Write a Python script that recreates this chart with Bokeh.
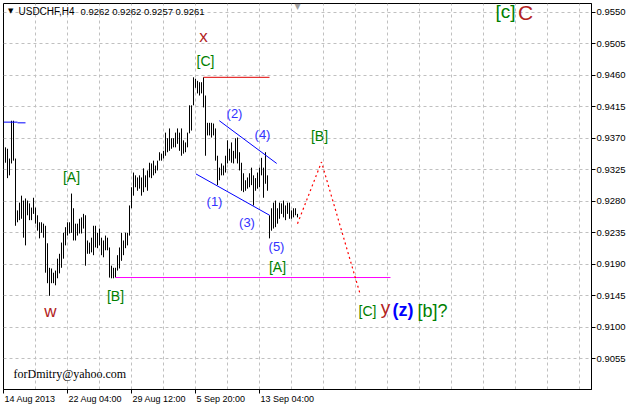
from bokeh.plotting import figure
from bokeh.models import Range1d, FixedTicker, Label, PrintfTickFormatter, ColumnDataSource, LinearAxis
from bokeh.embed import file_html
from bokeh.resources import INLINE

# ---------------- data (H4 bars, bar 0 = 14 Aug 2013 20:00) ----------------
bar_index = list(range(1, 148))
high = [0.9357, 0.9355, 0.9341, 0.9395, 0.9395, 0.9341, 0.9267, 0.9278, 0.9288, 0.9281,
        0.9284, 0.9281, 0.9277, 0.9271, 0.9285, 0.9271, 0.9260, 0.9250, 0.9250, 0.9248,
        0.9245, 0.9220, 0.9185, 0.9184, 0.9178, 0.9181, 0.9198, 0.9205, 0.9221, 0.9235,
        0.9243, 0.9250, 0.9250, 0.9291, 0.9270, 0.9248, 0.9248, 0.9255, 0.9257, 0.9262,
        0.9260, 0.9224, 0.9221, 0.9228, 0.9245, 0.9245, 0.9235, 0.9241, 0.9228, 0.9224,
        0.9231, 0.9228, 0.9214,
        0.9188, 0.9185, 0.9185, 0.9203, 0.9214, 0.9235, 0.9224, 0.9235, 0.9235, 0.9274,
        0.9300, 0.9321, 0.9317, 0.9314, 0.9317, 0.9314, 0.9327, 0.9317, 0.9324, 0.9335,
        0.9334, 0.9338, 0.9331, 0.9338, 0.9350, 0.9348, 0.9352, 0.9378, 0.9370, 0.9384,
        0.9370, 0.9370, 0.9378, 0.9384, 0.9378, 0.9384, 0.9367, 0.9364, 0.9378, 0.9417,
        0.9417,
        0.9457, 0.9455, 0.9452, 0.9450, 0.9450, 0.9457, 0.9431, 0.9392, 0.9392, 0.9392,
        0.9391, 0.9384, 0.9345, 0.9328, 0.9334, 0.9331, 0.9345, 0.9367, 0.9355, 0.9364,
        0.9352, 0.9370, 0.9371, 0.9350, 0.9335, 0.9320, 0.9310, 0.9314, 0.9320, 0.9328,
        0.9317, 0.9313, 0.9321, 0.9328, 0.9342, 0.9328, 0.9350, 0.9317,
        0.9260, 0.9270, 0.9278, 0.9281, 0.9270, 0.9278, 0.9277, 0.9281, 0.9274, 0.9278,
        0.9278, 0.9267, 0.9270, 0.9270, 0.9262]
low = [0.9335, 0.9313, 0.9317, 0.9334, 0.9338, 0.9245, 0.9250, 0.9253, 0.9255, 0.9228,
       0.9217, 0.9260, 0.9253, 0.9253, 0.9262, 0.9248, 0.9238, 0.9227, 0.9235, 0.9228,
       0.9178, 0.9163, 0.9145, 0.9163, 0.9163, 0.9160, 0.9170, 0.9177, 0.9185, 0.9198,
       0.9217, 0.9231, 0.9234, 0.9235, 0.9224, 0.9224, 0.9231, 0.9234, 0.9234, 0.9241,
       0.9188, 0.9205, 0.9205, 0.9207, 0.9203, 0.9214, 0.9213, 0.9217, 0.9203, 0.9200,
       0.9210, 0.9210, 0.9171,
       0.9170, 0.9170, 0.9171, 0.9181, 0.9184, 0.9195, 0.9203, 0.9213, 0.9217, 0.9231,
       0.9270, 0.9288, 0.9300, 0.9295, 0.9298, 0.9288, 0.9293, 0.9300, 0.9295, 0.9314,
       0.9313, 0.9317, 0.9320, 0.9324, 0.9338, 0.9338, 0.9341, 0.9345, 0.9350, 0.9352,
       0.9355, 0.9357, 0.9357, 0.9362, 0.9352, 0.9345, 0.9348, 0.9350, 0.9357, 0.9377,
       0.9381,
       0.9417, 0.9442, 0.9434, 0.9431, 0.9434, 0.9414, 0.9345, 0.9374, 0.9374, 0.9371,
       0.9374, 0.9338, 0.9303, 0.9310, 0.9317, 0.9317, 0.9321, 0.9334, 0.9338, 0.9335,
       0.9334, 0.9341, 0.9334, 0.9324, 0.9295, 0.9293, 0.9295, 0.9298, 0.9300, 0.9303,
       0.9274, 0.9295, 0.9298, 0.9300, 0.9317, 0.9285, 0.9305, 0.9295,
       0.9227, 0.9238, 0.9241, 0.9243, 0.9248, 0.9255, 0.9262, 0.9257, 0.9253, 0.9262,
       0.9255, 0.9255, 0.9257, 0.9260, 0.9257]

x_tick_bars = [0, 32, 64, 96, 128]
x_tick_labels = ["14 Aug 2013", "22 Aug 04:00", "29 Aug 12:00", "5 Sep 20:00", "13 Sep 04:00"]
grid_bars = [16, 32, 48, 64, 80, 96, 112, 128, 144, 160, 176, 192, 208, 224, 240, 256, 272, 288]
price_ticks = [0.9055, 0.9100, 0.9145, 0.9190, 0.9235, 0.9280, 0.9325,
               0.9370, 0.9415, 0.9460, 0.9505, 0.9550]

# drawn objects
level_c_bars = [100, 133]
level_c_price = [0.9457, 0.9457]
level_b_bars = [56, 193.5]
level_b_price = [0.91711, 0.91711]
blue_lvl1_bars = [0, 7]
blue_lvl1_price = [0.9393, 0.9393]
blue_lvl2_bars = [7, 11]
blue_lvl2_price = [0.9392, 0.9392]
chan_up_bars = [107.9, 136.6]
chan_up_price = [0.9395, 0.9334]
chan_lo_bars = [96.25, 133.05]
chan_lo_price = [0.9319, 0.9260]
proj_bars = [147, 159, 178.25]
proj_price = [0.9248, 0.9336, 0.9148]

# wave labels
lab_text = ["x", "[C]", "[A]", "w", "[B]", "(1)", "(2)", "(3)", "(4)", "(5)",
            "[A]", "[B]", "[c]", "C", "[C]", "y", "(z)", "[b]?"]
lab_bar = [100, 101, 34, 23.5, 56, 105.5, 115.5, 121.75, 129.5, 136.5,
           137, 158, 251, 261, 182, 191, 199.75, 214.5]
lab_price = [0.9515, 0.9480, 0.9315, 0.9123, 0.9145, 0.9280, 0.9405, 0.9250, 0.9376, 0.9215,
             0.9186, 0.9373, 0.9551, 0.9550, 0.9124, 0.9129, 0.9125, 0.9124]
RED = "#b22222"
GRN = "#008000"
BLU = "#3333ff"
lab_color = [RED, GRN, GRN, RED, GRN, BLU, BLU, BLU, BLU, BLU,
             GRN, GRN, GRN, RED, GRN, RED, "#0000ff", GRN]
lab_size = ["17px", "14px", "14px", "17px", "14px", "13px", "13px", "13px", "13px", "13px",
            "14px", "14px", "19px", "21px", "14px", "19px", "18px", "18px"]
lab_style = ["normal"] * 16 + ["bold", "normal"]

# ---------------- figure ----------------
FRAME_W = 588
FRAME_H = 386
top_price = 0.95624
bottom_price = 0.90112

p = figure(frame_width=FRAME_W, frame_height=FRAME_H, output_backend="svg",
           toolbar_location=None, y_axis_location="right",
           x_range=Range1d(0.0, FRAME_W / 2.0),
           y_range=Range1d(bottom_price, top_price),
           min_border_left=3, min_border_top=3, min_border_bottom=0, min_border_right=0)
p.background_fill_color = "white"
p.border_fill_color = "white"
p.outline_line_color = "black"
p.outline_line_alpha = 1.0

FONT = "Liberation Sans"
for ax in (p.xaxis[0], p.yaxis[0]):
    ax.axis_line_color = "black"
    ax.major_tick_line_color = "black"
    ax.major_tick_in = 0
    ax.major_tick_out = 4
    ax.minor_tick_line_color = None
    ax.major_label_text_font = FONT
    ax.major_label_text_font_size = "9.5px"
    ax.major_label_text_color = "black"

# tick marks only on the primary bottom axis
p.xaxis[0].ticker = FixedTicker(ticks=x_tick_bars)
p.xaxis[0].major_label_text_color = None
p.xaxis[0].major_label_text_font_size = "1px"
p.xaxis[0].major_label_standoff = 0

# time texts on a second bottom axis, each centred half its width right of its tick
label_half_px = [26.5, 27.8, 27.8, 25.3, 27.8]
label_pos = [b + (h / 2.0) for b, h in zip(x_tick_bars, label_half_px)]
time_axis = LinearAxis(ticker=FixedTicker(ticks=label_pos),
                       major_label_overrides={lp: t for lp, t in zip(label_pos, x_tick_labels)},
                       axis_line_color=None, major_tick_line_color=None, minor_tick_line_color=None,
                       major_tick_in=0, major_tick_out=0, major_label_standoff=0,
                       major_label_text_font=FONT, major_label_text_font_size="9px",
                       major_label_text_color="black")
p.add_layout(time_axis, "below")

p.yaxis[0].ticker = FixedTicker(ticks=price_ticks)
p.yaxis[0].formatter = PrintfTickFormatter(format="%.4f")
p.yaxis[0].major_label_standoff = 1

p.xgrid[0].ticker = FixedTicker(ticks=grid_bars)
p.ygrid[0].ticker = FixedTicker(ticks=price_ticks)
for g in (p.xgrid[0], p.ygrid[0]):
    g.grid_line_color = "#c0c0c0"
    g.grid_line_dash = "3 3"
    g.grid_line_width = 1

src = ColumnDataSource(dict(k=bar_index, hi=high, lo=low))
p.segment(x0="k", y0="lo", x1="k", y1="hi", source=src, line_color="black", line_width=1)

p.line(level_c_bars, level_c_price, line_color="#e00000", line_width=1)
p.line(level_b_bars, level_b_price, line_color="#ff00ff", line_width=1)
p.line(blue_lvl1_bars, blue_lvl1_price, line_color="#0000ff", line_width=1)
p.line(blue_lvl2_bars, blue_lvl2_price, line_color="#0000ff", line_width=1)
p.line(chan_up_bars, chan_up_price, line_color="#0000ff", line_width=1)
p.line(chan_lo_bars, chan_lo_price, line_color="#0000ff", line_width=1)
p.line(proj_bars, proj_price, line_color="#ff0000", line_width=1.2, line_dash="2 3")

for t, b, pr, c, s, st in zip(lab_text, lab_bar, lab_price, lab_color, lab_size, lab_style):
    p.add_layout(Label(x=b, y=pr, text=t, text_color=c, text_font=FONT, text_font_size=s,
                       text_font_style=st, text_align="center", text_baseline="middle"))

# window-fixed texts (screen units relative to the frame)
p.add_layout(Label(x=7.3, y=FRAME_H - 7.8, x_units="screen", y_units="screen", text="\u25bc",
                   text_font="DejaVu Sans", text_font_size="7px", text_color="black",
                   text_align="center", text_baseline="middle"))
p.add_layout(Label(x=15, y=FRAME_H - 7.5, x_units="screen", y_units="screen", text="USDCHF,H4",
                   text_font=FONT, text_font_size="10px", text_color="black",
                   text_align="left", text_baseline="middle"))
p.add_layout(Label(x=77, y=FRAME_H - 7.5, x_units="screen", y_units="screen",
                   text="0.9262 0.9262 0.9257 0.9261",
                   text_font=FONT, text_font_size="9.5px", text_color="black",
                   text_align="left", text_baseline="middle"))
p.add_layout(Label(x=294, y=FRAME_H - 2.5, x_units="screen", y_units="screen", text="\u25bc",
                   text_font="DejaVu Sans", text_font_size="8px", text_color="#a0a0a0",
                   text_align="center", text_baseline="middle"))
p.add_layout(Label(x=10, y=16, x_units="screen", y_units="screen", text="forDmitry@yahoo.com",
                   text_font="Liberation Serif", text_font_size="12px", text_color="black",
                   text_align="left", text_baseline="middle"))

open("out.html", "w").write(file_html(p, INLINE))
